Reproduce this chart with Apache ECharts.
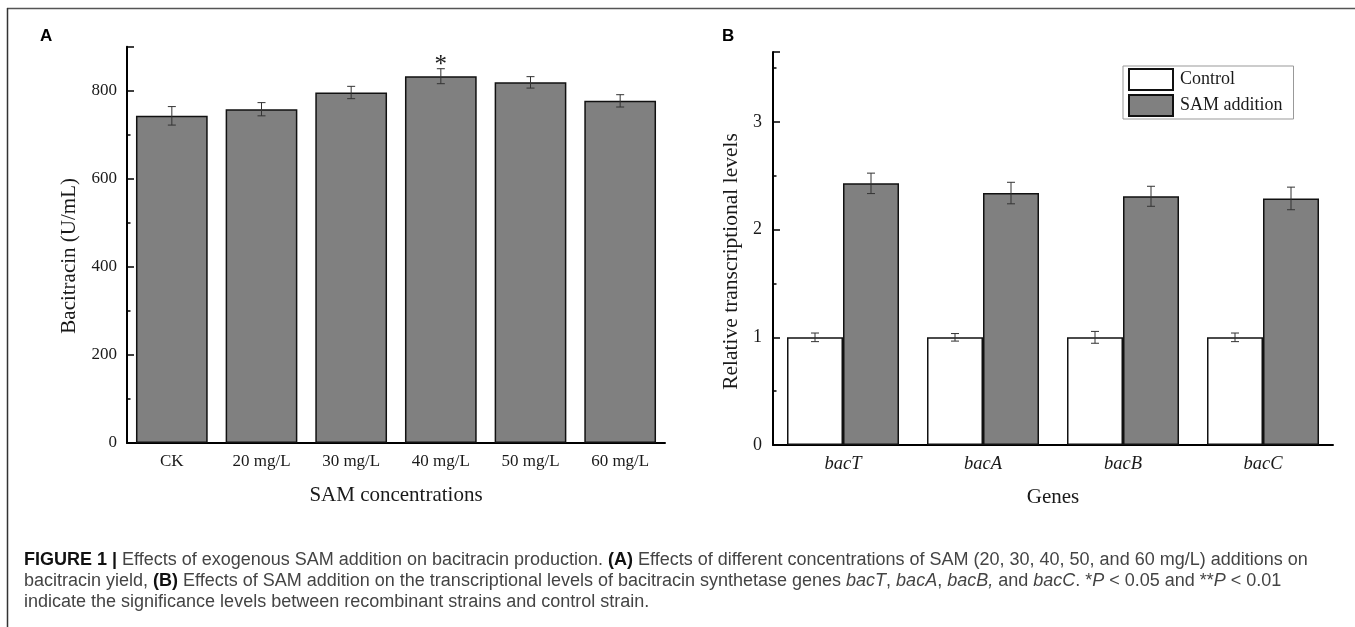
<!DOCTYPE html>
<html><head><meta charset="utf-8">
<script src="https://cdn.jsdelivr.net/npm/echarts/dist/echarts.min.js"></script>
<style>html,body{margin:0;padding:0;background:#fff}#c{width:1355px;height:627px}</style>
</head><body><div id="c"></div>
<script>
// ---- Panel A data ----
const concCategories = ['CK', '20 mg/L', '30 mg/L', '40 mg/L', '50 mg/L', '60 mg/L'];
const bacitracinYield = [743, 758, 796, 833, 819, 777];
const bacitracinErr = [21, 15, 14, 17, 13, 14];
const bacitracinSig = ['', '', '', '*', '', ''];

// ---- Panel B data ----
const geneCategories = ['bacT', 'bacA', 'bacB', 'bacC'];
const controlLevels = [1.0, 1.0, 1.0, 1.0];
const controlErr = [0.04, 0.035, 0.055, 0.04];
const samLevels = [2.43, 2.34, 2.31, 2.29];
const samErr = [0.095, 0.10, 0.093, 0.105];

const SERIF = '"Liberation Serif", "DejaVu Serif", serif';
const SANS = '"Liberation Sans", Arial, sans-serif';
const CAP = '"Liberation Sans", Arial, sans-serif';
const CAPSIZE = 18;
const INK = '#1a1a1a';

const chart = echarts.init(document.getElementById('c'), null, {renderer: 'canvas'});

function errRender(values, errs, offsetFrac, sig) {
  return function (params, api) {
    const i = params.dataIndex;
    const v = values[i], e = errs[i];
    const w = api.size([1, 0])[0];
    const c0 = api.coord([i, v + e]);
    const c1 = api.coord([i, v - e]);
    const x = c0[0] + offsetFrac * w;
    const cap = 4;
    const st = {stroke: '#333', lineWidth: 1};
    const children = [
      {type: 'line', shape: {x1: x, y1: c0[1], x2: x, y2: c1[1]}, style: st},
      {type: 'line', shape: {x1: x - cap, y1: c0[1], x2: x + cap, y2: c0[1]}, style: st},
      {type: 'line', shape: {x1: x - cap, y1: c1[1], x2: x + cap, y2: c1[1]}, style: st}
    ];
    if (sig && sig[i]) {
      children.push({type: 'text', style: {text: sig[i], x: x, y: c0[1] + 9, align: 'center', verticalAlign: 'bottom',
        font: '25px ' + SERIF, fill: INK}});
    }
    return {type: 'group', children: children};
  };
}

const axisLineStyle = {color: '#000', width: 2};

chart.setOption({
  animation: false,
  backgroundColor: '#fff',
  grid: [
    {left: 127, top: 46.7, width: 538, height: 396.3},
    {left: 773, top: 52, width: 560, height: 393}
  ],
  legend: {
    show: true,
    data: ['Control', 'SAM addition'],
    orient: 'vertical',
    left: 1123, top: 66,
    itemWidth: 44, itemHeight: 21, itemGap: 3,
    padding: [2, 11, 2, 5],
    borderColor: '#999', borderWidth: 1,
    icon: 'rect',
    textStyle: {fontFamily: SERIF, fontSize: 18, color: INK, padding: [0, 0, 0, 2]}
  },
  xAxis: [
    {type: 'category', gridIndex: 0, data: concCategories, position: 'bottom',
     axisLine: {lineStyle: axisLineStyle},
     axisTick: {inside: true, alignWithLabel: true, length: 7, lineStyle: {color: '#000', width: 1.5}},
     axisLabel: {fontFamily: SERIF, fontSize: 17, color: INK, margin: 10},
     name: 'SAM concentrations', nameLocation: 'middle', nameGap: 42,
     nameTextStyle: {fontFamily: SERIF, fontSize: 21, color: INK}},
    {type: 'category', gridIndex: 0, data: concCategories, position: 'bottom',
     axisLine: {show: false},
     axisTick: {inside: true, alignWithLabel: false, length: 3.5, lineStyle: {color: '#000', width: 1.5}},
     axisLabel: {show: false}},
    {type: 'category', gridIndex: 1, data: geneCategories, position: 'bottom',
     axisLine: {lineStyle: axisLineStyle},
     axisTick: {inside: true, alignWithLabel: false, length: 4, lineStyle: {color: '#000', width: 1.5}},
     axisLabel: {fontFamily: SERIF, fontSize: 18.5, fontStyle: 'italic', color: INK, margin: 10},
     name: 'Genes', nameLocation: 'middle', nameGap: 42,
     nameTextStyle: {fontFamily: SERIF, fontSize: 21, color: INK}}
  ],
  yAxis: [
    {type: 'value', gridIndex: 0, position: 'left', min: 0, max: 900, interval: 100,
     axisLine: {show: true, lineStyle: axisLineStyle},
     axisTick: {show: true, inside: true, length: 3.5, lineStyle: {color: '#000', width: 1.5}},
     splitLine: {show: false},
     axisLabel: {fontFamily: SERIF, fontSize: 17, color: INK, margin: 10,
       formatter: function (v) { return (v % 200 === 0 && v <= 800) ? String(v) : ''; }},
     name: 'Bacitracin (U/mL)', nameLocation: 'middle', nameGap: 47,
     nameTextStyle: {fontFamily: SERIF, fontSize: 21, color: INK, padding: [0, 22, 0, 0]}},
    {type: 'value', gridIndex: 0, position: 'left', min: 0, max: 900, interval: 200,
     axisLine: {show: false}, splitLine: {show: false}, axisLabel: {show: false},
     axisTick: {show: true, inside: true, length: 7, lineStyle: {color: '#000', width: 1.5}}},
    {type: 'value', gridIndex: 1, position: 'left', min: 0, max: 3.65, interval: 0.5,
     axisLine: {show: true, lineStyle: axisLineStyle},
     axisTick: {show: true, inside: true, length: 3.5, lineStyle: {color: '#000', width: 1.5}},
     splitLine: {show: false},
     axisLabel: {fontFamily: SERIF, fontSize: 18, color: INK, margin: 11,
       formatter: function (v) { return (Math.abs(v - Math.round(v)) < 1e-9 && v <= 3) ? String(Math.round(v)) : ''; }},
     name: 'Relative transcriptional levels', nameLocation: 'middle', nameGap: 31,
     nameTextStyle: {fontFamily: SERIF, fontSize: 21.5, color: INK, padding: [0, 26, 0, 0]}},
    {type: 'value', gridIndex: 1, position: 'left', min: 0, max: 3.65, interval: 1,
     axisLine: {show: false}, splitLine: {show: false}, axisLabel: {show: false},
     axisTick: {show: true, inside: true, length: 7, lineStyle: {color: '#000', width: 1.5}}}
  ],
  series: [
    {type: 'bar', name: 'Bacitracin', xAxisIndex: 0, yAxisIndex: 0, data: bacitracinYield,
     barWidth: '80%',
     itemStyle: {color: '#808080', borderColor: '#111', borderWidth: 1.5}},
    {type: 'custom', xAxisIndex: 0, yAxisIndex: 0, z: 5,
     data: bacitracinYield.map(function (v, i) { return [i, v]; }),
     renderItem: errRender(bacitracinYield, bacitracinErr, 0, bacitracinSig)},
    {type: 'bar', name: 'Control', xAxisIndex: 2, yAxisIndex: 2, data: controlLevels,
     barGap: '0%', barCategoryGap: '20%',
     itemStyle: {color: '#ffffff', borderColor: '#111', borderWidth: 1.5}},
    {type: 'bar', name: 'SAM addition', xAxisIndex: 2, yAxisIndex: 2, data: samLevels,
     barGap: '0%', barCategoryGap: '20%',
     itemStyle: {color: '#808080', borderColor: '#111', borderWidth: 1.5}},
    {type: 'custom', xAxisIndex: 2, yAxisIndex: 2, z: 5,
     data: controlLevels.map(function (v, i) { return [i, v]; }),
     renderItem: errRender(controlLevels, controlErr, -0.2, null)},
    {type: 'custom', xAxisIndex: 2, yAxisIndex: 2, z: 5,
     data: samLevels.map(function (v, i) { return [i, v]; }),
     renderItem: errRender(samLevels, samErr, 0.2, null)}
  ],
  graphic: [
    {type: 'line', shape: {x1: 7, y1: 8.5, x2: 1355, y2: 8.5}, style: {stroke: '#555', lineWidth: 1.5}},
    {type: 'line', shape: {x1: 7.5, y1: 8, x2: 7.5, y2: 627}, style: {stroke: '#333', lineWidth: 1.5}},
    {type: 'text', left: 40, top: 28, style: {text: 'A', font: 'bold 17px ' + SANS, fill: '#000'}},
    {type: 'text', left: 722, top: 28, style: {text: 'B', font: 'bold 17px ' + SANS, fill: '#000'}},
    {type: 'text', left: 24, top: 551, style: {
      text: '{b|FIGURE 1 |} Effects of exogenous SAM addition on bacitracin production. {b|(A)} Effects of different concentrations of SAM (20, 30, 40, 50, and 60 mg/L) additions on',
      font: CAPSIZE + 'px ' + CAP, fill: '#444',
      rich: {b: {fontWeight: 'bold', fontFamily: CAP, fontSize: CAPSIZE, fill: '#111'}}}},
    {type: 'text', left: 24, top: 572, style: {
      text: 'bacitracin yield, {b|(B)} Effects of SAM addition on the transcriptional levels of bacitracin synthetase genes {i|bacT}, {i|bacA}, {i|bacB,} and {i|bacC}. *{i|P} < 0.05 and **{i|P} < 0.01',
      font: CAPSIZE + 'px ' + CAP, fill: '#444',
      rich: {b: {fontWeight: 'bold', fontFamily: CAP, fontSize: CAPSIZE, fill: '#111'},
             i: {fontStyle: 'italic', fontFamily: CAP, fontSize: CAPSIZE, fill: '#444'}}}},
    {type: 'text', left: 24, top: 593, style: {
      text: 'indicate the significance levels between recombinant strains and control strain.',
      font: CAPSIZE + 'px ' + CAP, fill: '#444'}}
  ]
});
</script>
</body></html>
